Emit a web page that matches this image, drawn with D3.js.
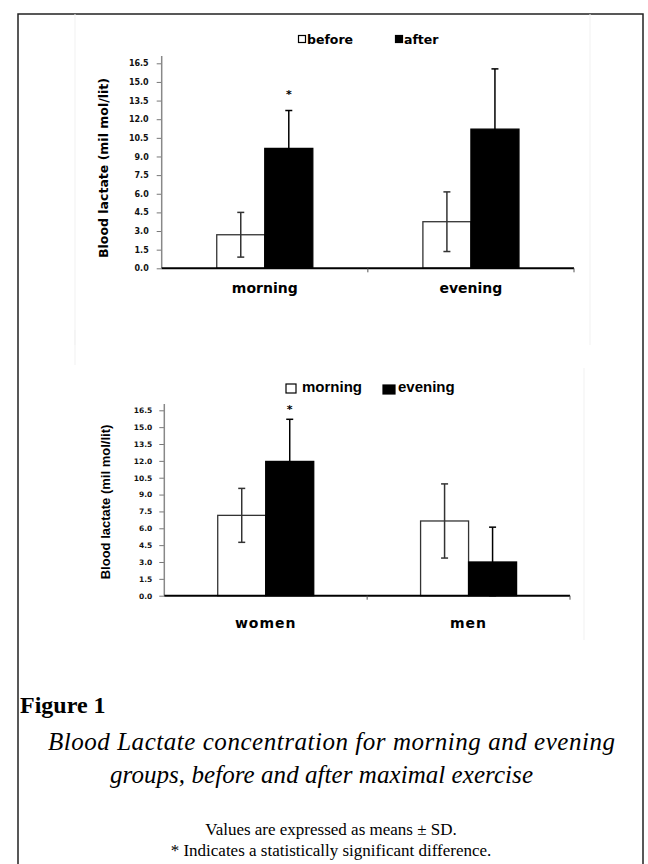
<!DOCTYPE html>
<html>
<head>
<meta charset="utf-8">
<script src="https://cdn.jsdelivr.net/npm/d3@7"></script>
<style>
  body { margin: 0; background: #fff; }
  svg { display: block; }
</style>
</head>
<body>
<svg id="fig"></svg>
<script>
// ---- data ----
const yTicks = [0, 1.5, 3, 4.5, 6, 7.5, 9, 10.5, 12, 13.5, 15, 16.5];

// top panel: before / after exercise, by time-of-day group
const timeGroups = ["morning", "evening"];
const stageSeries = ["before", "after"];
const beforeMean = [2.7, 3.75];
const beforeSd = [1.8, 2.4];
const afterMean = [9.65, 11.2];
const afterSd = [3.05, 4.85];
const afterStar = [true, false];

// bottom panel: morning / evening group, by sex
const sexGroups = ["women", "men"];
const timeSeries = ["morning", "evening"];
const morningMean = [7.15, 6.65];
const morningSd = [2.4, 3.3];
const eveningMean = [11.95, 3.0];
const eveningSd = [3.75, 3.1];
const eveningStar = [true, false];

const width = 648, height = 864;
const svg = d3.select("#fig").attr("width", width).attr("height", height);

// outer frame (no bottom edge visible)
svg.append("path")
  .attr("d", "M18,870 L18,14 L643,14 L643,870")
  .attr("fill", "none").attr("stroke", "#222").attr("stroke-width", 1.5);

// faint edges of the pasted chart images
const faint = [[75, 14, 75, 345], [590, 14, 590, 345], [75, 330, 75, 365], [584, 368, 584, 640]];
faint.forEach(f => svg.append("line")
  .attr("x1", f[0]).attr("y1", f[1]).attr("x2", f[2]).attr("y2", f[3])
  .attr("stroke", "#f1f1f1").attr("stroke-width", 1));

function drawPanel(cfg) {
  const g = svg.append("g");
  const x = d3.scaleBand().domain(cfg.groups).range([cfg.x0, cfg.x1]).padding(0);
  const xs = d3.scaleBand().domain(cfg.series).range([0, x.bandwidth()])
    .paddingInner(0).paddingOuter(cfg.outerPad);
  const y = d3.scaleLinear().domain([0, 16.5]).range([cfg.yBottom, cfg.yTop]);

  // y axis
  const ya = g.append("g").attr("transform", `translate(${cfg.x0},0)`)
    .call(d3.axisLeft(y).tickValues(yTicks).tickFormat(d3.format(".1f")).tickSize(5).tickSizeOuter(0));
  ya.select(".domain").remove();
  ya.selectAll(".tick line").attr("stroke", "#777").attr("stroke-width", 1);
  ya.selectAll(".tick text")
    .attr("x", -cfg.tickGap)
    .attr("font-family", "DejaVu Sans").attr("font-weight", "bold")
    .attr("font-size", cfg.tickFont).attr("fill", "#111");
  g.append("line")
    .attr("x1", cfg.x0).attr("x2", cfg.x0)
    .attr("y1", cfg.axisTop).attr("y2", cfg.yBottom)
    .attr("stroke", "#888").attr("stroke-width", 1.5);

  // y label
  g.append("text")
    .attr("transform", `translate(${cfg.labelX},${cfg.labelY}) rotate(-90)`)
    .attr("text-anchor", "middle").attr("dominant-baseline", "central")
    .attr("font-family", cfg.labelFamily).attr("font-weight", "bold")
    .attr("font-size", cfg.labelSize)
    .text(cfg.yLabel);

  // bars
  cfg.series.forEach((s, si) => {
    const means = cfg.means[si], sds = cfg.sds[si];
    const dark = si === 1;
    cfg.groups.forEach((grp, gi) => {
      const bx = x(grp) + xs(s);
      const bw = xs.bandwidth();
      g.append("rect")
        .attr("x", bx).attr("y", y(means[gi]))
        .attr("width", bw).attr("height", y(0) - y(means[gi]))
        .attr("fill", dark ? "#000" : "#fff")
        .attr("stroke", dark ? "#000" : "#333").attr("stroke-width", 1.3);
      const cx = bx + bw / 2;
      const lo = Math.max(0, means[gi] - sds[gi]), hi = means[gi] + sds[gi];
      const col = dark ? "#000" : "#333";
      g.append("line").attr("x1", cx).attr("x2", cx)
        .attr("y1", y(lo)).attr("y2", y(hi))
        .attr("stroke", col).attr("stroke-width", 1.5);
      [lo, hi].forEach(v => g.append("line")
        .attr("x1", cx - 3.5).attr("x2", cx + 3.5)
        .attr("y1", y(v)).attr("y2", y(v))
        .attr("stroke", col).attr("stroke-width", 1.5));
      if (dark && cfg.stars[gi]) {
        g.append("text")
          .attr("x", cx).attr("y", cfg.starY)
          .attr("text-anchor", "middle")
          .attr("font-family", "DejaVu Sans").attr("font-weight", "bold")
          .attr("font-size", 11).text("*");
      }
    });
  });

  // x axis
  g.append("line")
    .attr("x1", cfg.x0).attr("x2", cfg.x1)
    .attr("y1", cfg.yBottom).attr("y2", cfg.yBottom)
    .attr("stroke", "#000").attr("stroke-width", 2);
  [x(cfg.groups[1]), cfg.x1].forEach(tx => g.append("line")
    .attr("x1", tx).attr("x2", tx)
    .attr("y1", cfg.yBottom).attr("y2", cfg.yBottom + 4)
    .attr("stroke", "#555").attr("stroke-width", 1));

  // category labels
  cfg.groups.forEach(grp => g.append("text")
    .attr("x", x(grp) + x.bandwidth() / 2).attr("y", cfg.catY)
    .attr("text-anchor", "middle")
    .attr("font-family", "DejaVu Sans").attr("font-weight", "bold")
    .attr("font-size", cfg.catSize).attr("letter-spacing", cfg.catSpacing)
    .text(grp));

  // legend
  cfg.series.forEach((s, si) => {
    const lg = cfg.legend[si];
    g.append("rect")
      .attr("x", lg.bx).attr("y", lg.by)
      .attr("width", lg.bw).attr("height", lg.bh)
      .attr("fill", si === 1 ? "#000" : "#fff")
      .attr("stroke", "#000").attr("stroke-width", 1.2);
    g.append("text")
      .attr("x", lg.tx).attr("y", lg.ty)
      .attr("font-family", cfg.legendFamily).attr("font-weight", "bold")
      .attr("font-size", cfg.legendSize)
      .text(s);
  });
}

drawPanel({
  groups: timeGroups, series: stageSeries,
  means: [beforeMean, afterMean], sds: [beforeSd, afterSd], stars: afterStar,
  x0: 161.7, x1: 574, yBottom: 268.3, yTop: 63.3, axisTop: 56, outerPad: 1.146,
  tickGap: 13, tickFont: 8,
  labelX: 103, labelY: 168, labelSize: 12.5, labelFamily: "DejaVu Sans",
  yLabel: "Blood lactate (mil mol/lit)",
  starY: 98, catY: 293, catSize: 14, catSpacing: 0,
  legendFamily: "DejaVu Sans", legendSize: 12.5,
  legend: [
    { bx: 298.5, by: 35.5, bw: 7, bh: 7, tx: 307, ty: 43.5 },
    { bx: 395.5, by: 35.5, bw: 7, bh: 7, tx: 404, ty: 43.5 }
  ]
});

drawPanel({
  groups: sexGroups, series: timeSeries,
  means: [morningMean, eveningMean], sds: [morningSd, eveningSd], stars: eveningStar,
  x0: 164.3, x1: 570, yBottom: 595.7, yTop: 410.3, axisTop: 404, outerPad: 1.113,
  tickGap: 12, tickFont: 7.5,
  labelX: 105, labelY: 502, labelSize: 13, labelFamily: "Liberation Sans",
  yLabel: "Blood lactate (mil mol/lit)",
  starY: 413, catY: 628, catSize: 14, catSpacing: 1,
  legendFamily: "Liberation Sans", legendSize: 15,
  legend: [
    { bx: 286, by: 384, bw: 10, bh: 9, tx: 302, ty: 392 },
    { bx: 383, by: 385, bw: 12, bh: 9, tx: 398, ty: 392 }
  ]
});

// caption
const cap = svg.append("g").attr("font-family", "Liberation Serif").attr("fill", "#000");
cap.append("text").attr("x", 20).attr("y", 713)
  .attr("font-weight", "bold").attr("font-size", 24).text("Figure 1");
cap.append("text").attr("x", 48).attr("y", 750)
  .attr("font-style", "italic").attr("font-size", 25).attr("textLength", 567)
  .text("Blood Lactate concentration for morning and evening");
cap.append("text").attr("x", 110).attr("y", 783)
  .attr("font-style", "italic").attr("font-size", 25).attr("textLength", 423)
  .text("groups, before and after maximal exercise");
cap.append("text").attr("x", 331).attr("y", 835).attr("text-anchor", "middle")
  .attr("font-size", 17)
  .text("Values are expressed as means \u00b1 SD.");
cap.append("text").attr("x", 331).attr("y", 856).attr("text-anchor", "middle")
  .attr("font-size", 17)
  .text("* Indicates a statistically significant difference.");
</script>
</body>
</html>
